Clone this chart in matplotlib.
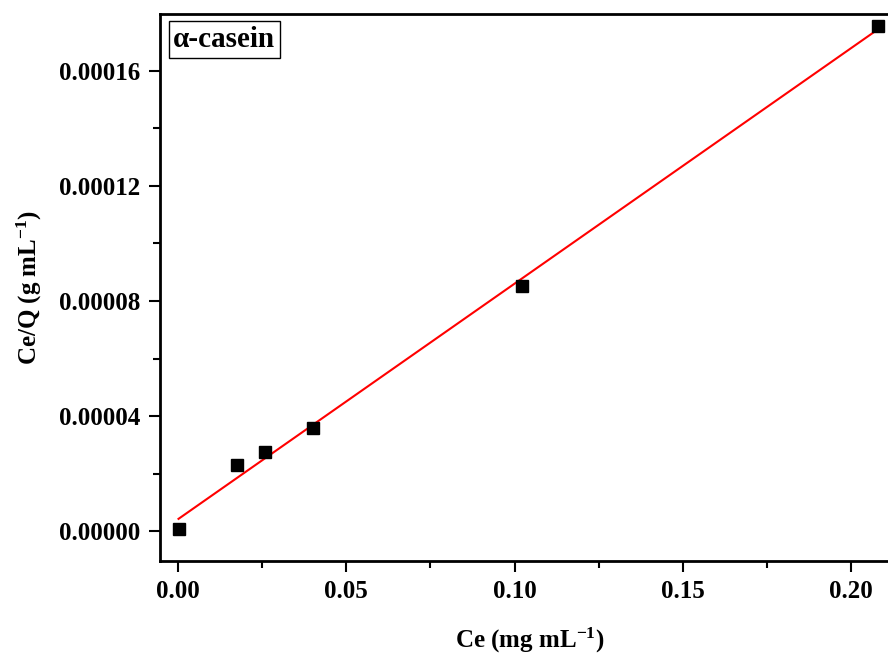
import numpy as np
import matplotlib.pyplot as plt
from matplotlib.ticker import MultipleLocator, FormatStrFormatter

plt.rcParams['font.family'] = ['Liberation Serif', 'DejaVu Serif']
plt.rcParams['font.weight'] = 'bold'
plt.rcParams['mathtext.fontset'] = 'custom'
plt.rcParams['mathtext.rm'] = 'Liberation Serif:bold'
plt.rcParams['mathtext.bf'] = 'Liberation Serif:bold'
plt.rcParams['mathtext.default'] = 'bf'

# datos
ce = [0.0002, 0.0176, 0.0259, 0.0402, 0.1023, 0.2081]
ce_q = [0.0000008, 0.0000229, 0.0000274, 0.0000357, 0.0000853, 0.0001755]

# ajuste lineal
pendiente, intercepto = np.polyfit(ce, ce_q, 1)
x_ajuste = np.array([ce[0], ce[-1]])
y_ajuste = pendiente * x_ajuste + intercepto

fig = plt.figure(figsize=(8.88, 6.57), dpi=100)
ax = fig.add_axes([160 / 888, 1 - 561 / 657, 740 / 888, (561 - 14) / 657])

ax.plot(x_ajuste, y_ajuste, color='red', lw=1.5, zorder=2)
ax.plot(ce, ce_q, 's', color='black', markersize=8.5, zorder=3)

ax.set_xlim(-0.0053, 0.2145)
ax.set_ylim(-0.0000104, 0.0001798)

ax.xaxis.set_major_locator(MultipleLocator(0.05))
ax.xaxis.set_minor_locator(MultipleLocator(0.025))
ax.yaxis.set_major_locator(MultipleLocator(0.00004))
ax.yaxis.set_minor_locator(MultipleLocator(0.00002))
ax.xaxis.set_major_formatter(FormatStrFormatter('%.2f'))
ax.yaxis.set_major_formatter(FormatStrFormatter('%.5f'))

ax.tick_params(which='both', direction='out', width=1.5, labelsize=18, top=False, right=False)
ax.tick_params(which='major', length=8, pad=6)
ax.tick_params(which='minor', length=5)
for lado in ax.spines.values():
    lado.set_linewidth(2)

ax.set_xlabel('Ce (mg mL$^{-1}$)', fontsize=18, fontweight='bold', labelpad=16)
ax.set_ylabel('Ce/Q (g mL$^{-1}$)', fontsize=18, fontweight='bold', labelpad=11)

ax.text(0.018, 0.978, '\u03b1-casein', transform=ax.transAxes, fontsize=21,
        fontweight='bold', va='top', ha='left',
        bbox=dict(boxstyle='square,pad=0.16', fc='white', ec='black', lw=1))

plt.savefig('out.png', dpi=100)
plt.close()
